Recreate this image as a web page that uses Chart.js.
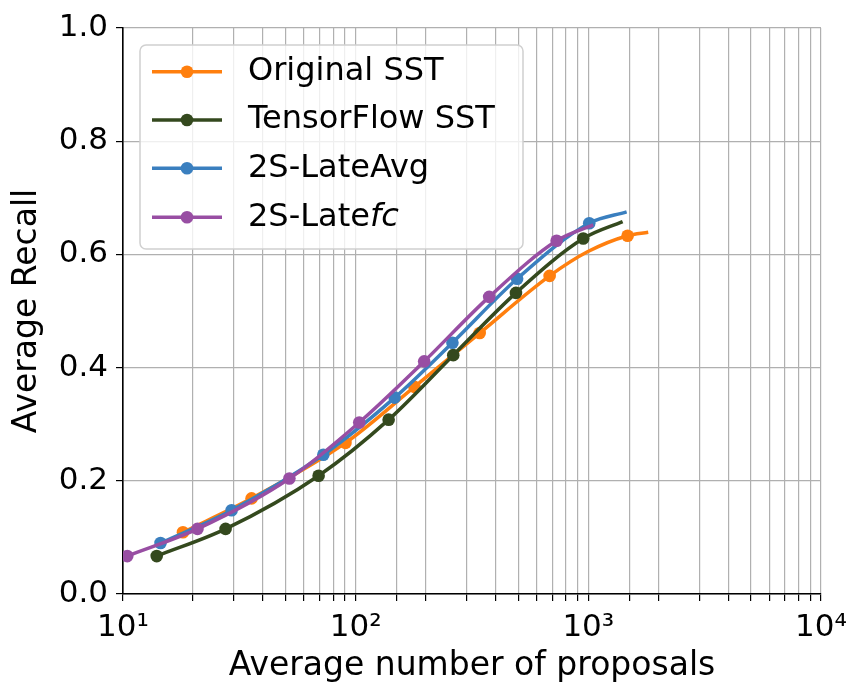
<!DOCTYPE html>
<html>
<head>
<meta charset="utf-8">
<script src="https://cdn.jsdelivr.net/npm/chart.js@4"></script>
<style>
  html, body { margin: 0; padding: 0; background: #fff; }
  #wrap { width: 866px; height: 698px; }
</style>
</head>
<body>
<div id="wrap"><canvas id="myChart" width="866" height="698"></canvas></div>
<script>
// values (x = average number of proposals, y = average recall)
const origX = [18.1, 35.7, 90.4, 178.9, 341.2, 681.8, 996, 1475, 1809];
const origY = [0.109, 0.169, 0.267, 0.366, 0.461, 0.562, 0.605, 0.633, 0.639];
const origMarks = [1, 1, 1, 1, 1, 1, 0, 1, 0];

const tfX = [13.96, 27.6, 69.3, 138.6, 262.7, 488.5, 950.7, 1404];
const tfY = [0.067, 0.115, 0.209, 0.308, 0.422, 0.532, 0.628, 0.658];
const tfMarks = [1, 1, 1, 1, 1, 1, 1, 0];

const avgX = [14.5, 29.3, 72.6, 147.1, 260.6, 494.3, 1009, 1461];
const avgY = [0.090, 0.148, 0.246, 0.347, 0.444, 0.557, 0.655, 0.675];
const avgMarks = [1, 1, 1, 1, 1, 1, 1, 0];

const fcX = [10.43, 20.9, 51.9, 103.6, 197.0, 374.8, 730.7, 1050];
const fcY = [0.067, 0.115, 0.204, 0.303, 0.411, 0.525, 0.624, 0.652];
const fcMarks = [1, 1, 1, 1, 1, 1, 1, 0];

const seriesNames = ["Original SST", "TensorFlow SST", "2S-LateAvg", "2S-Latefc"];
const seriesColors = ["#ff7f0e", "#34491e", "#3a7fbf", "#984ea3"];
const xTickLabels = { 10: "10\u00b9", 100: "10\u00b2", 1000: "10\u00b3", 10000: "10\u2074" };
const yTicks = [0.0, 0.2, 0.4, 0.6, 0.8, 1.0];

const FONT = "'DejaVu Sans', sans-serif";

function makeSet(name, color, xs, ys, marks, order) {
  return {
    label: name,
    data: xs.map((x, i) => ({ x: x, y: ys[i] })),
    borderColor: color,
    backgroundColor: color,
    borderWidth: 3.5,
    pointRadius: marks.map((m) => (m ? 6.3 : 0)),
    pointBorderWidth: 0,
    pointHoverRadius: 6.3,
    cubicInterpolationMode: "monotone",
    fill: false,
    order: order,
  };
}

// matplotlib-like legend box in the top left corner
const legendBox = {
  id: "legendBox",
  afterDraw(chart) {
    const c = chart.ctx;
    c.save();
    const x0 = 140, y0 = 45, w = 383, h = 204, r = 6;
    c.beginPath();
    c.moveTo(x0 + r, y0);
    c.arcTo(x0 + w, y0, x0 + w, y0 + h, r);
    c.arcTo(x0 + w, y0 + h, x0, y0 + h, r);
    c.arcTo(x0, y0 + h, x0, y0, r);
    c.arcTo(x0, y0, x0 + w, y0, r);
    c.closePath();
    c.fillStyle = "rgba(255,255,255,0.8)";
    c.fill();
    c.strokeStyle = "#d0d0d0";
    c.lineWidth = 1.5;
    c.stroke();

    const rows = [71.7, 120, 168.3, 217.3];
    rows.forEach((ry, i) => {
      c.strokeStyle = seriesColors[i];
      c.fillStyle = seriesColors[i];
      c.lineWidth = 3.5;
      c.beginPath();
      c.moveTo(152, ry);
      c.lineTo(222, ry);
      c.stroke();
      c.beginPath();
      c.arc(187, ry, 6.3, 0, Math.PI * 2);
      c.fill();

      c.fillStyle = "#000";
      c.textBaseline = "middle";
      c.textAlign = "left";
      c.font = "32px " + FONT;
      if (i === 3) {
        const base = "2S-Late";
        c.fillText(base, 248, ry);
        const bw = c.measureText(base).width;
        c.font = "italic 32px " + FONT;
        c.fillText("fc", 248 + bw, ry);
      } else {
        c.fillText(seriesNames[i], 248, ry);
      }
    });
    c.restore();
  },
};

const ctx = document.getElementById("myChart").getContext("2d");
const myChart = new Chart(ctx, {
  type: "line",
  data: {
    datasets: [
      makeSet(seriesNames[0], seriesColors[0], origX, origY, origMarks, 4),
      makeSet(seriesNames[1], seriesColors[1], tfX, tfY, tfMarks, 3),
      makeSet(seriesNames[2], seriesColors[2], avgX, avgY, avgMarks, 2),
      makeSet(seriesNames[3], seriesColors[3], fcX, fcY, fcMarks, 1),
    ],
  },
  options: {
    responsive: false,
    animation: false,
    devicePixelRatio: 1,
    layout: { padding: { top: 28, right: 45, left: 0, bottom: 0 } },
    plugins: {
      legend: { display: false },
      tooltip: { enabled: false },
    },
    scales: {
      x: {
        type: "logarithmic",
        min: 10,
        max: 10000,
        afterFit: (scale) => { scale.height = 104; },
        border: { display: true, color: "#000", width: 1.6 },
        grid: { color: "#b0b0b0", lineWidth: 1.2, tickColor: "#000", tickLength: 7 },
        ticks: {
          autoSkip: false,
          maxRotation: 0,
          color: "#000",
          padding: 8,
          font: { family: FONT, size: 31 },
          callback: (v) => (xTickLabels[v] !== undefined ? xTickLabels[v] : ""),
        },
        title: {
          display: true,
          text: "Average number of proposals",
          color: "#000",
          font: { family: FONT, size: 33 },
          padding: { top: 0, bottom: 12 },
        },
      },
      y: {
        min: 0,
        max: 1,
        afterFit: (scale) => { scale.width = 123; },
        afterBuildTicks: (scale) => { scale.ticks = yTicks.map((v) => ({ value: v })); },
        border: { display: true, color: "#000", width: 1.6 },
        grid: { color: "#b0b0b0", lineWidth: 1.2, tickColor: "#000", tickLength: 7 },
        ticks: {
          color: "#000",
          padding: 8,
          font: { family: FONT, size: 31 },
          callback: (v) => v.toFixed(1),
        },
        title: {
          display: true,
          text: "Average Recall",
          color: "#000",
          font: { family: FONT, size: 33 },
          padding: { top: 8, bottom: 0 },
        },
      },
    },
  },
  plugins: [legendBox],
});
</script>
</body>
</html>
